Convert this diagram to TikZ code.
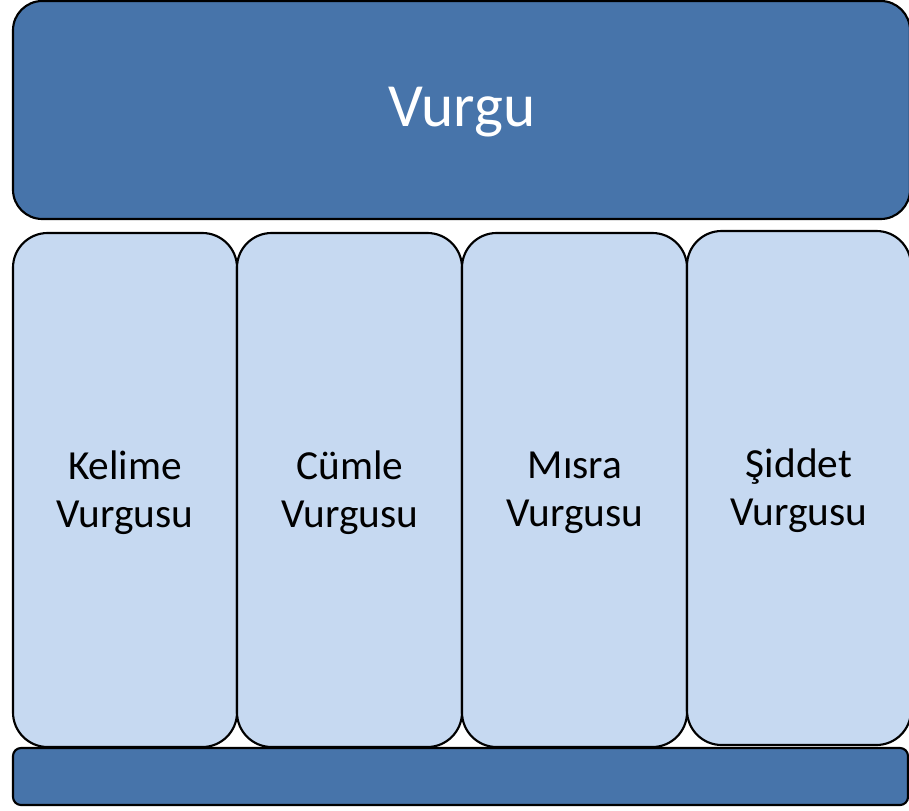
\documentclass[tikz,border=0pt]{standalone}
\usepackage{fontspec}
\setmainfont{Carlito}
\definecolor{darkblue}{HTML}{4774AA}
\definecolor{lightblue}{HTML}{C6D9F1}
\begin{document}
\begin{tikzpicture}[x=0.75pt,y=-0.75pt,
  header/.style={draw=black, line width=1.6pt, fill=darkblue, rounded corners=22pt},
  column/.style={draw=black, line width=1.6pt, fill=lightblue, rounded corners=26pt},
  footer/.style={draw=black, line width=1.6pt, fill=darkblue, rounded corners=6pt},
  coltext/.style={align=center, font=\fontsize{31}{36}\selectfont, text=black}]
\useasboundingbox (0,0) rectangle (909,810);
% header bar
\draw[header] (13,1) rectangle (910,219);
\node[text=white, font=\fontsize{46}{55}\selectfont] (title) at (462,112) {Vurgu};
% four columns
\draw[column] (13,233) rectangle (237,747);
\draw[column] (237,233) rectangle (462,747);
\draw[column] (462,233) rectangle (687,747);
\draw[column] (687,231) rectangle (911,745);
\node[coltext] (c1) at (125,493) {Kelime\\Vurgusu};
\node[coltext] (c2) at (350,493) {Cümle\\Vurgusu};
\node[coltext] (c3) at (575,493) {Mısra\\Vurgusu};
\node[coltext] (c4) at (799,491) {Şiddet\\Vurgusu};
% footer bar
\draw[footer] (13,748) rectangle (908,805);
\end{tikzpicture}
\end{document}
